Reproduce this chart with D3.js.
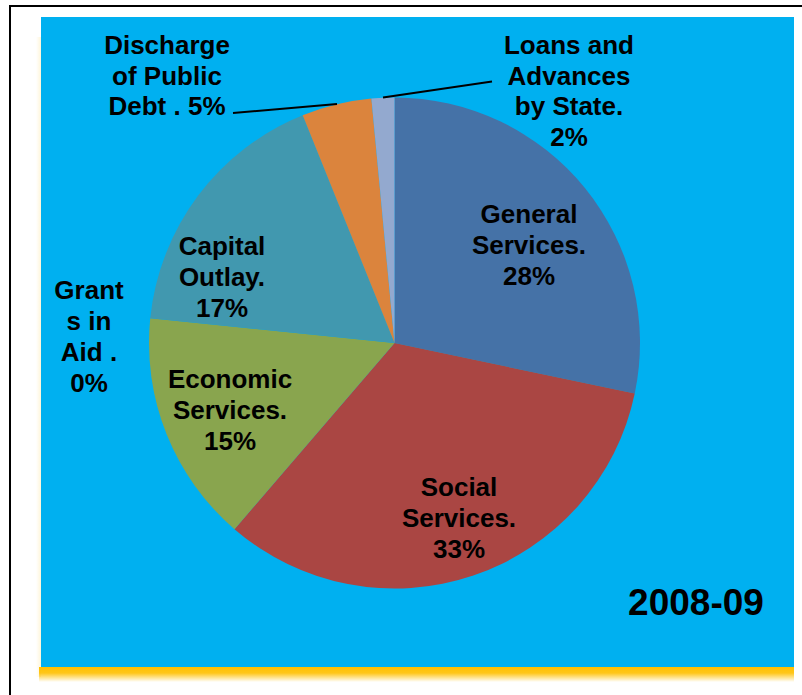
<!DOCTYPE html>
<html>
<head>
<meta charset="utf-8">
<script src="https://cdn.jsdelivr.net/npm/d3@7"></script>
<style>
  html, body { margin: 0; padding: 0; background: #ffffff; }
  svg { display: block; }
  text { font-family: "Liberation Sans", Arial, sans-serif; font-weight: bold; fill: #000; }
</style>
</head>
<body>
<svg id="chart" width="802" height="695"></svg>
<script>
// Expenditure heads, 2008-09 (share of total, %)
const categories = [
  "General Services.",
  "Social Services.",
  "Economic Services.",
  "Grants in Aid .",
  "Capital Outlay.",
  "Discharge of Public Debt .",
  "Loans and Advances by State."
];
const shares = [28.3, 33.0, 15.3, 0.0, 17.3, 4.6, 1.5];
const colors = ["#4572A7", "#AA4643", "#89A54E", "#71588F", "#4198AF", "#DB843D", "#93A9CF"];
const yearLabel = "2008-09";

// How each category name is broken over lines (percentage goes on the last line or appended)
const labelLines = [
  ["General", "Services."],
  ["Social", "Services."],
  ["Economic", "Services."],
  ["Grant", "s in", "Aid ."],
  ["Capital", "Outlay."],
  ["Discharge", "of Public", "Debt ."],
  ["Loans and", "Advances", "by State."]
];
// percentage shares the last line with the name for these
const pctInline = [false, false, false, false, false, true, false];

// label anchor: centre x and first baseline y; line step
const labelPos = [
  [529, 223], [459, 496], [230, 388], [89, 299], [222, 255], [167, 54], [569, 54]
];
const lineStep = [31, 31, 31, 31, 31, 30.5, 30.7];
// leader lines for the outside labels: [start, end]
const leaders = {
  5: [[233, 113], [337, 104]],
  6: [[383, 97.5], [492, 81.5]]
};

const svg = d3.select("#chart");

// outer frame
svg.append("path")
  .attr("d", "M10,695 L10,6 L802,6")
  .attr("fill", "none").attr("stroke", "#000").attr("stroke-width", 2);

// yellow glow under the panel
const defs = svg.append("defs");
const gBottom = defs.append("linearGradient").attr("id", "shadowBottom")
  .attr("x1", 0).attr("y1", 0).attr("x2", 0).attr("y2", 1);
gBottom.append("stop").attr("offset", "0%").attr("stop-color", "#FFC000").attr("stop-opacity", 1);
gBottom.append("stop").attr("offset", "40%").attr("stop-color", "#FFC000").attr("stop-opacity", 0.9);
gBottom.append("stop").attr("offset", "100%").attr("stop-color", "#FFC000").attr("stop-opacity", 0);
const gLeft = defs.append("linearGradient").attr("id", "shadowLeft")
  .attr("x1", 1).attr("y1", 0).attr("x2", 0).attr("y2", 0);
gLeft.append("stop").attr("offset", "0%").attr("stop-color", "#FFC000").attr("stop-opacity", 0.15);
gLeft.append("stop").attr("offset", "100%").attr("stop-color", "#FFC000").attr("stop-opacity", 0);

const panel = { x: 41, y: 17, w: 753, h: 650 };
svg.append("rect").attr("x", panel.x - 5).attr("y", panel.y + 20).attr("width", 5).attr("height", panel.h - 10)
  .attr("fill", "url(#shadowLeft)");
svg.append("rect").attr("x", panel.x - 2).attr("y", panel.y + panel.h).attr("width", panel.w + 2).attr("height", 15)
  .attr("fill", "url(#shadowBottom)");

// blue panel
svg.append("rect").attr("x", panel.x).attr("y", panel.y).attr("width", panel.w).attr("height", panel.h)
  .attr("fill", "#00B0F0");

// pie
const cx = 394.5, cy = 343, radius = 245.5;
const pie = d3.pie().sort(null).value(d => d);
const arc = d3.arc().innerRadius(0).outerRadius(radius);
const arcs = pie(shares);

const g = svg.append("g").attr("transform", `translate(${cx},${cy})`);
g.selectAll("path.slice")
  .data(arcs.filter(a => a.value > 0))
  .join("path")
  .attr("class", "slice")
  .attr("d", arc)
  .attr("fill", d => colors[d.index]);

// leader lines
Object.entries(leaders).forEach(([i, pts]) => {
  svg.append("path")
    .attr("d", d3.line()(pts))
    .attr("fill", "none").attr("stroke", "#000").attr("stroke-width", 2);
});

// data labels
const fmt = v => Math.round(v) + "%";
arcs.forEach((a, i) => {
  const lines = labelLines[i].slice();
  const pct = fmt(shares[i]);
  if (pctInline[i]) lines[lines.length - 1] += " " + pct;
  else lines.push(pct);
  const t = svg.append("text")
    .attr("text-anchor", "middle")
    .attr("font-size", 26);
  lines.forEach((ln, k) => {
    t.append("tspan")
      .attr("x", labelPos[i][0])
      .attr("y", labelPos[i][1] + k * lineStep[i])
      .text(ln);
  });
});

// year caption
svg.append("text")
  .attr("x", 696).attr("y", 615)
  .attr("text-anchor", "middle")
  .attr("font-size", 37)
  .text(yearLabel);
</script>
</body>
</html>
